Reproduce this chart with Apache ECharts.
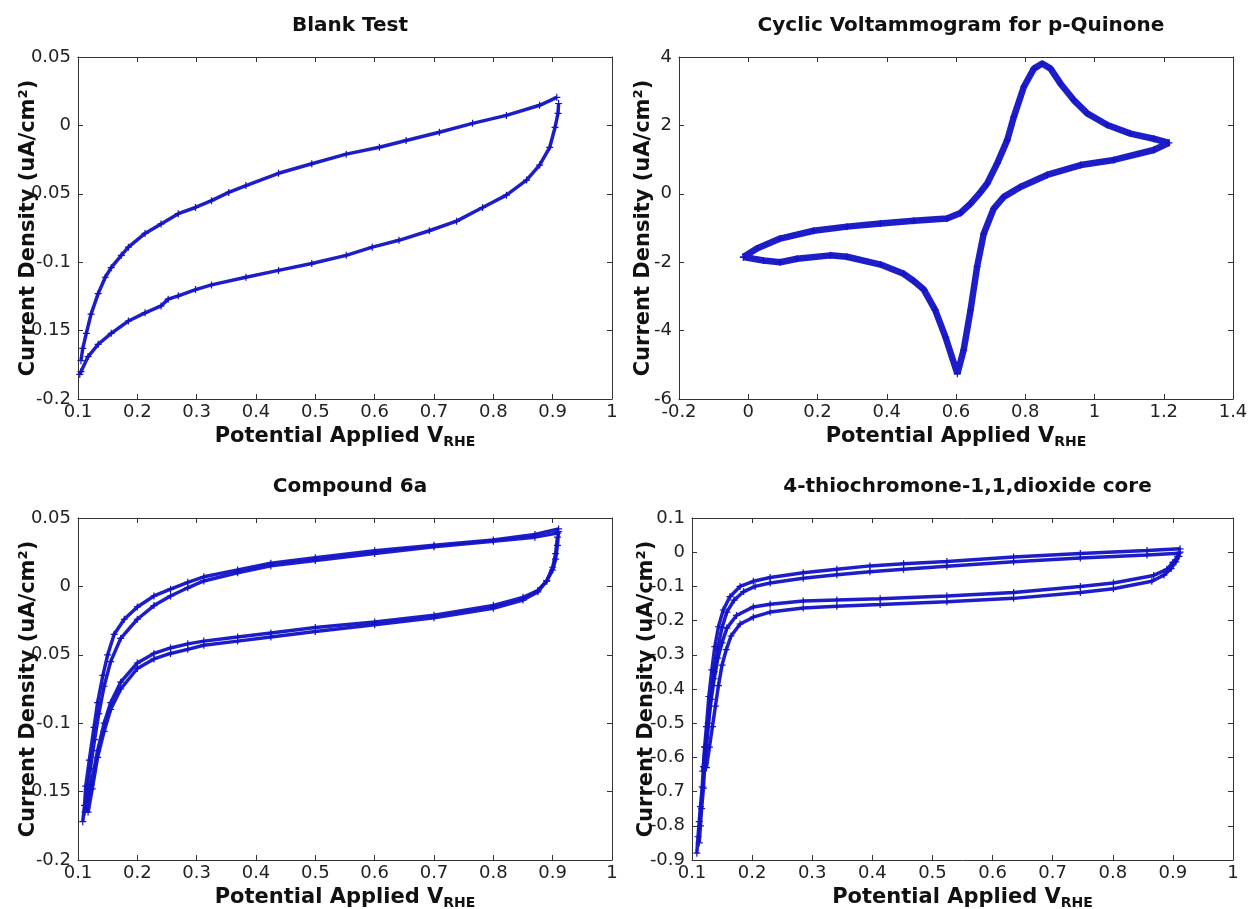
<!DOCTYPE html>
<html>
<head>
<meta charset="utf-8">
<title>Cyclic voltammograms</title>
<script src="https://cdn.jsdelivr.net/npm/echarts@6/dist/echarts.min.js"></script>
<style>
  html, body { margin: 0; padding: 0; background: #fff; }
  #chart { width: 1251px; height: 909px; }
</style>
</head>
<body>
<div id="chart"></div>
<script>
// ---- data: [potential V_RHE, current density] ----
const blankFwd = [[0.105,-0.172],[0.108,-0.163],[0.114,-0.152],[0.122,-0.138],[0.134,-0.123],[0.146,-0.111],
  [0.156,-0.104],[0.173,-0.095],[0.185,-0.089],[0.213,-0.079],[0.24,-0.072],[0.269,-0.0645],[0.298,-0.06],
  [0.325,-0.055],[0.354,-0.049],[0.383,-0.044],[0.438,-0.035],[0.494,-0.028],[0.552,-0.021],[0.608,-0.016],
  [0.653,-0.011],[0.709,-0.005],[0.765,0.0015],[0.822,0.0073],[0.878,0.0147],[0.907,0.0205]]
const blankRev = [[0.91,0.016],[0.909,0.0088],[0.904,-0.0015],[0.895,-0.016],[0.878,-0.029],[0.856,-0.04],
  [0.822,-0.051],[0.782,-0.06],[0.738,-0.07],[0.692,-0.077],[0.641,-0.084],[0.596,-0.089],[0.552,-0.095],
  [0.494,-0.101],[0.438,-0.106],[0.383,-0.111],[0.325,-0.1166],[0.298,-0.12],[0.269,-0.1246],[0.252,-0.127],
  [0.24,-0.132],[0.213,-0.137],[0.185,-0.143],[0.156,-0.152],[0.134,-0.16],[0.117,-0.169],[0.105,-0.18],[0.103,-0.182]]

const quinoneLoop = [[-0.014,-1.85],[0.025,-1.6],[0.092,-1.31],[0.189,-1.08],[0.285,-0.96],[0.382,-0.87],
  [0.478,-0.79],[0.574,-0.72],[0.613,-0.56],[0.642,-0.29],[0.671,0.05],[0.69,0.3],[0.719,0.89],[0.748,1.57],
  [0.767,2.25],[0.796,3.13],[0.825,3.66],[0.849,3.81],[0.873,3.66],[0.902,3.22],[0.94,2.74],[0.979,2.35],
  [1.037,2.01],[1.104,1.76],[1.171,1.61],[1.215,1.49],[1.171,1.28],[1.056,0.99],[0.96,0.84],[0.863,0.55],
  [0.786,0.2],[0.738,-0.09],[0.709,-0.43],[0.68,-1.17],[0.661,-2.13],[0.642,-3.4],[0.622,-4.57],[0.604,-5.26],
  [0.57,-4.2],[0.54,-3.4],[0.507,-2.8],[0.478,-2.55],[0.449,-2.34],[0.382,-2.07],[0.285,-1.84],[0.237,-1.8],
  [0.141,-1.9],[0.092,-2.0],[0.044,-1.95],[-0.014,-1.85]]

const c6aFwd1 = [[0.108,-0.172],[0.111,-0.16],[0.113,-0.146],[0.119,-0.127],[0.127,-0.103],[0.133,-0.085],
  [0.142,-0.065],[0.15,-0.05],[0.161,-0.035],[0.178,-0.024],[0.2,-0.015],[0.228,-0.007],[0.256,-0.002],
  [0.285,0.003],[0.312,0.007],[0.369,0.012],[0.425,0.017],[0.5,0.021],[0.6,0.026],[0.7,0.03],[0.8,0.034],
  [0.87,0.038],[0.91,0.042]]
const c6aFwd2 = [[0.112,-0.165],[0.116,-0.15],[0.121,-0.133],[0.128,-0.112],[0.135,-0.093],[0.144,-0.073],
  [0.155,-0.055],[0.172,-0.038],[0.2,-0.024],[0.228,-0.014],[0.256,-0.007],[0.285,-0.001],[0.312,0.004],
  [0.369,0.01],[0.425,0.015],[0.5,0.019],[0.6,0.024],[0.7,0.029],[0.8,0.033],[0.87,0.036],[0.908,0.039]]
const c6aRev1 = [[0.91,0.04],[0.908,0.03],[0.905,0.02],[0.9,0.012],[0.89,0.004],[0.875,-0.003],[0.85,-0.008],
  [0.8,-0.014],[0.7,-0.021],[0.6,-0.026],[0.5,-0.03],[0.425,-0.034],[0.369,-0.037],[0.312,-0.04],[0.285,-0.042],
  [0.256,-0.045],[0.228,-0.049],[0.2,-0.056],[0.172,-0.07],[0.155,-0.085],[0.144,-0.1],[0.133,-0.12],
  [0.122,-0.145],[0.115,-0.162]]
const c6aRev2 = [[0.908,0.036],[0.905,0.024],[0.9,0.014],[0.89,0.004],[0.875,-0.004],[0.85,-0.01],[0.8,-0.016],
  [0.7,-0.023],[0.6,-0.028],[0.5,-0.033],[0.425,-0.037],[0.369,-0.04],[0.312,-0.043],[0.285,-0.046],
  [0.256,-0.049],[0.228,-0.053],[0.2,-0.06],[0.172,-0.075],[0.155,-0.09],[0.144,-0.106],[0.133,-0.125],
  [0.124,-0.148],[0.117,-0.165]]

const thioFwd1 = [[0.108,-0.88],[0.11,-0.832],[0.112,-0.788],[0.114,-0.744],[0.117,-0.686],[0.119,-0.627],
  [0.121,-0.569],[0.124,-0.51],[0.128,-0.422],[0.133,-0.344],[0.138,-0.276],[0.144,-0.218],[0.152,-0.169],
  [0.163,-0.13],[0.18,-0.1],[0.202,-0.085],[0.23,-0.074],[0.285,-0.06],[0.341,-0.05],[0.396,-0.04],
  [0.452,-0.034],[0.524,-0.027],[0.635,-0.014],[0.746,-0.004],[0.857,0.005],[0.912,0.01]]
const thioFwd2 = [[0.112,-0.85],[0.114,-0.8],[0.116,-0.75],[0.119,-0.69],[0.121,-0.63],[0.124,-0.57],
  [0.127,-0.51],[0.131,-0.43],[0.137,-0.35],[0.143,-0.28],[0.15,-0.22],[0.158,-0.175],[0.17,-0.14],
  [0.186,-0.115],[0.205,-0.1],[0.23,-0.09],[0.285,-0.076],[0.341,-0.066],[0.396,-0.057],[0.452,-0.05],
  [0.524,-0.041],[0.635,-0.028],[0.746,-0.017],[0.857,-0.008],[0.91,-0.003]]
const thioRev1 = [[0.912,0.0],[0.908,-0.012],[0.9,-0.03],[0.89,-0.05],[0.868,-0.068],[0.801,-0.09],
  [0.746,-0.1],[0.635,-0.118],[0.524,-0.128],[0.413,-0.136],[0.341,-0.14],[0.285,-0.143],[0.23,-0.152],
  [0.202,-0.16],[0.174,-0.185],[0.158,-0.222],[0.15,-0.265],[0.143,-0.31],[0.137,-0.37],[0.132,-0.43],
  [0.127,-0.5],[0.122,-0.57],[0.118,-0.64]]
const thioRev2 = [[0.91,-0.012],[0.905,-0.028],[0.897,-0.048],[0.885,-0.067],[0.865,-0.085],[0.801,-0.107],
  [0.746,-0.118],[0.635,-0.135],[0.524,-0.145],[0.413,-0.153],[0.341,-0.158],[0.285,-0.163],[0.23,-0.175],
  [0.202,-0.19],[0.18,-0.21],[0.165,-0.245],[0.157,-0.285],[0.15,-0.33],[0.144,-0.39],[0.139,-0.45],
  [0.134,-0.51],[0.129,-0.57],[0.124,-0.63]]

// tick values
const blankXTicks = [0.1,0.2,0.3,0.4,0.5,0.6,0.7,0.8,0.9,1]
const blankYTicks = [-0.2,-0.15,-0.1,-0.05,0,0.05]
const quinoneXTicks = [-0.2,0,0.2,0.4,0.6,0.8,1,1.2,1.4]
const quinoneYTicks = [-6,-4,-2,0,2,4]
const thioXTicks = [0.1,0.2,0.3,0.4,0.5,0.6,0.7,0.8,0.9,1]
const thioYTicks = [-0.9,-0.8,-0.7,-0.6,-0.5,-0.4,-0.3,-0.2,-0.1,0,0.1]

const titles = ['Blank Test', 'Cyclic Voltammogram for p-Quinone', 'Compound 6a', '4-thiochromone-1,1,dioxide core']
const xName = 'Potential Applied V{sub|RHE}'
const yName = 'Current Density (uA/cm²)'

const BLUE = '#1212c6'
const AX = '#333333'
const FONT = 'DejaVu Sans'

const grids = [
  { left: 78,  top: 57,  width: 534, height: 342 },
  { left: 679, top: 57,  width: 554, height: 342 },
  { left: 78,  top: 518, width: 534, height: 342 },
  { left: 692, top: 518, width: 541, height: 342 }
].map(g => Object.assign(g, { outerBoundsMode: 'none', containLabel: false }))
const yNameGaps = [39, 25, 39, 35]

const tickSets = [
  [blankXTicks, blankYTicks],
  [quinoneXTicks, quinoneYTicks],
  [blankXTicks, blankYTicks],
  [thioXTicks, thioYTicks]
]

function range(ticks) {
  return {
    min: ticks[0],
    max: ticks[ticks.length - 1],
    interval: +(ticks[1] - ticks[0]).toFixed(6)
  }
}

function axis(gi, ticks, position, main) {
  const isX = position === 'bottom' || position === 'top'
  const a = Object.assign({
    type: 'value',
    gridIndex: gi,
    position: position,
    axisLine: { show: true, onZero: false, lineStyle: { color: AX, width: 1 } },
    axisTick: { show: true, inside: true, length: 5, lineStyle: { color: AX } },
    splitLine: { show: false },
    axisLabel: {
      show: main,
      color: '#222',
      fontFamily: FONT,
      fontSize: 18,
      margin: isX ? 4 : 7,
      showMinLabel: true,
      showMaxLabel: true
    }
  }, range(ticks))
  if (main) {
    a.nameLocation = 'middle'
    a.nameMoveOverlap = false
    a.nameTextStyle = { fontFamily: FONT, fontSize: 21, fontWeight: 'bold', color: '#111' }
    if (isX) {
      a.name = xName
      a.nameGap = 25
      a.nameTextStyle.rich = {
        sub: { fontFamily: FONT, fontSize: 14, fontWeight: 'bold', color: '#111',
               verticalAlign: 'bottom', padding: [11, 0, 0, 0] }
      }
    } else {
      a.name = yName
      a.nameGap = yNameGaps[gi]
      a.nameRotate = 90
    }
  }
  return a
}

const xAxes = [], yAxes = []
grids.forEach((g, i) => {
  const [xt, yt] = tickSets[i]
  xAxes.push(axis(i, xt, 'bottom', true), axis(i, xt, 'top', false))
  yAxes.push(axis(i, yt, 'left', true), axis(i, yt, 'right', false))
})

function trace(data, gi, width) {
  return {
    type: 'line',
    xAxisIndex: gi * 2,
    yAxisIndex: gi * 2,
    data: data,
    smooth: false,
    symbol: 'path://M0,5L10,5M5,0L5,10',
    symbolSize: 7,
    showSymbol: true,
    itemStyle: { color: BLUE, borderColor: BLUE, borderWidth: 1.2 },
    lineStyle: { color: BLUE, width: width, opacity: 0.95 },
    silent: true,
    animation: false
  }
}

const series = [
  trace(blankFwd, 0, 3.5), trace(blankRev, 0, 3.5),
  trace(quinoneLoop, 1, 6.5),
  trace(c6aFwd1, 2, 3.5), trace(c6aFwd2, 2, 3.5), trace(c6aRev1, 2, 3.5), trace(c6aRev2, 2, 3.5),
  trace(thioFwd1, 3, 3.5), trace(thioFwd2, 3, 3.5), trace(thioRev1, 3, 3.5), trace(thioRev2, 3, 3.5)
]

const title = grids.map((g, i) => ({
  text: titles[i],
  left: g.left + g.width / 2,
  top: g.top - 46,
  textAlign: 'center',
  textStyle: { fontFamily: FONT, fontSize: 20, fontWeight: 'bold', color: '#111' }
}))

const chart = echarts.init(document.getElementById('chart'))
chart.setOption({
  backgroundColor: '#fff',
  animation: false,
  title: title,
  grid: grids,
  xAxis: xAxes,
  yAxis: yAxes,
  series: series
})
</script>
</body>
</html>
